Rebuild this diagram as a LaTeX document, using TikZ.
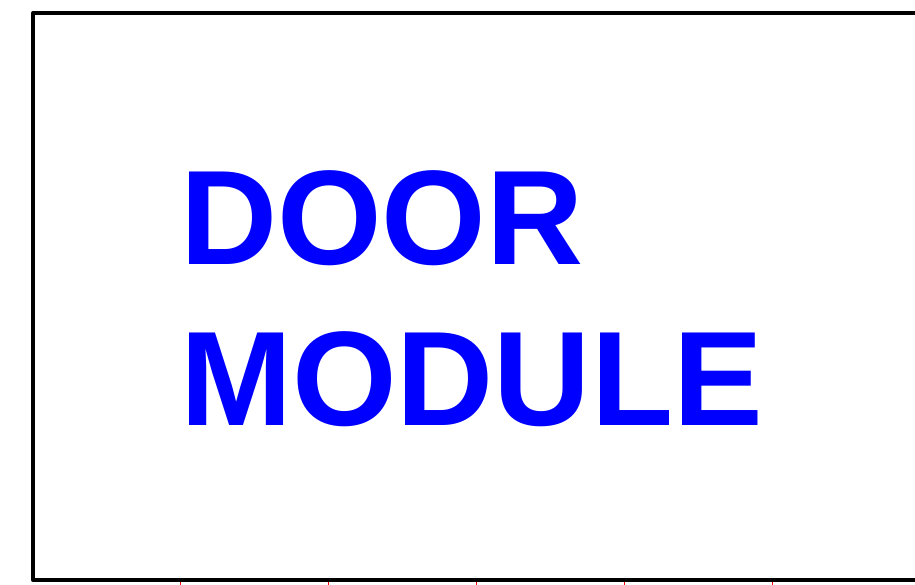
\documentclass[tikz,border=0pt]{standalone}
\usepackage{fontspec}
\setmainfont{Liberation Sans}
\definecolor{titleblue}{RGB}{0,0,255}
\begin{document}
\begin{tikzpicture}[x=1pt,y=-1pt,
  frame/.style={draw=black,line width=4pt,line join=round},
  title/.style={text=titleblue,font=\fontsize{134.5}{160}\selectfont\bfseries,inner sep=0pt,anchor=base west},
  tick/.style={draw=red,line width=1pt}]
\useasboundingbox (0,0) rectangle (915,585);
\clip (0,0) rectangle (915,585);
\draw[frame] (940,13) -- (33,13) -- (33,580) -- (940,580);
\node[title] (door) at (180,265) {DOOR};
\node[title] (module) at (180,425) {MODULE};
\foreach \x [count=\i] in {180,328,476,624,772}
  \coordinate (t\i) at (\x,582);
\foreach \i in {1,...,5}
  \draw[tick] (t\i) -- ++(0,4);
\end{tikzpicture}
\end{document}
